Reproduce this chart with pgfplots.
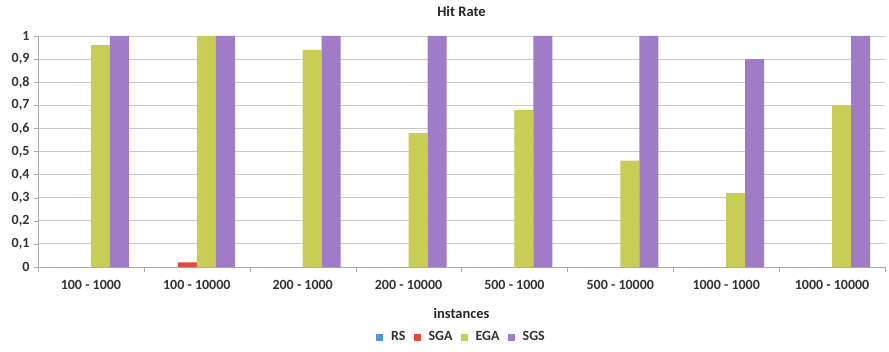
\documentclass[border=0pt]{standalone}
\usepackage{pgfplots}
\pgfplotsset{compat=1.18}
\usepackage{fontspec}
\setmainfont{Carlito}
\definecolor{rscol}{RGB}{79,150,210}
\definecolor{sgacol}{RGB}{226,72,62}
\definecolor{egacol}{RGB}{200,205,85}
\definecolor{sgscol}{RGB}{160,124,200}
\definecolor{gridcol}{RGB}{200,200,200}
\definecolor{axcol}{RGB}{170,170,170}
\begin{document}
\begin{tikzpicture}[x=1pt,y=1pt]
\path[use as bounding box] (0,0) rectangle (889,351);
\begin{axis}[
  at={(38pt,84pt)}, anchor=south west,
  scale only axis, width=847pt, height=231pt,
  ybar=0pt, bar width=19pt,
  xmin=-0.5, xmax=7.5, ymin=0, ymax=1,
  xtick={0,...,7},
  xticklabels={100 - 1000,100 - 10000,200 - 1000,200 - 10000,500 - 1000,500 - 10000,1000 - 1000,1000 - 10000},
  major x tick style={draw=none},
  minor xtick={-0.5,0.5,...,7.5},
  minor x tick style={draw=axcol},
  minor tick length=5pt,
  ytick={0,0.1,...,1.0},
  yticklabels={0,{0,1},{0,2},{0,3},{0,4},{0,5},{0,6},{0,7},{0,8},{0,9},1},
  ytick style={draw=axcol},
  major tick length=4pt,
  tick align=outside,
  ymajorgrids, grid style={draw=gridcol, line width=0.8pt},
  axis x line*=bottom, axis y line*=left,
  axis line style={draw=axcol, line width=0.8pt, -},
  tick label style={font=\fontsize{14}{16}\selectfont\bfseries, text=black!80},
  xticklabel style={anchor=center, yshift=-14pt},
  yticklabel style={xshift=-1pt},
  title={\fontsize{14.5}{16}\selectfont\bfseries Hit Rate},
  title style={at={(axis description cs:0.5,1)}, anchor=center, yshift=19pt, text=black!85},
  xlabel={\fontsize{14.5}{16}\selectfont\bfseries instances},
  xlabel style={at={(axis description cs:0.5,0)}, anchor=center, yshift=-46pt, text=black!85},
  legend columns=4,
  legend style={at={(0.5,0)}, anchor=center, yshift=-70pt, draw=none,
    font=\fontsize{14}{16}\selectfont\bfseries, text=black!80,
    /tikz/column sep=6pt, inner sep=0pt},
  legend image code/.code={\fill[#1] (0pt,-3.5pt) rectangle (7pt,3.5pt);},
  every axis plot/.append style={draw=none},
]
\addplot[fill=rscol] coordinates {(0,0) (1,0) (2,0) (3,0) (4,0) (5,0) (6,0) (7,0)};
\addplot[fill=sgacol] coordinates {(0,0) (1,0.02) (2,0) (3,0) (4,0) (5,0) (6,0) (7,0)};
\addplot[fill=egacol] coordinates {(0,0.96) (1,1) (2,0.94) (3,0.58) (4,0.68) (5,0.46) (6,0.32) (7,0.70)};
\addplot[fill=sgscol] coordinates {(0,1) (1,1) (2,1) (3,1) (4,1) (5,1) (6,0.9) (7,1)};
\legend{RS,SGA,EGA,SGS}
\end{axis}
\end{tikzpicture}
\end{document}
